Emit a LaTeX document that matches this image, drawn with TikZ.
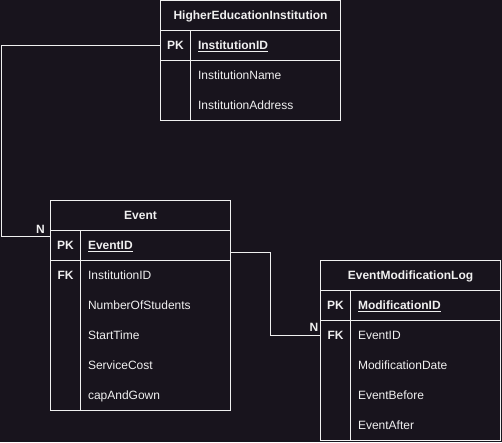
\documentclass[tikz,border=0pt]{standalone}
\usepackage{fontspec}
\setmainfont{Liberation Sans}
\usepackage{xcolor}
\definecolor{erbg}{RGB}{24,20,29}
\definecolor{erfg}{RGB}{240,240,240}
\usetikzlibrary{calc,positioning}
\tikzset{
  every node/.style={text=erfg,font=\fontsize{12}{14}\selectfont,text height=8.6pt,text depth=0pt,outer sep=0pt},
  tblhead/.style={draw=erfg,line width=1pt,minimum width=180pt,minimum height=30pt,inner sep=0pt,font=\fontsize{12}{14}\selectfont\bfseries},
  keybox/.style={draw=erfg,line width=1pt,minimum width=30pt,minimum height=30pt,inner sep=0pt,anchor=north west,font=\fontsize{12}{14}\selectfont\bfseries},
  fieldbox/.style={draw=erfg,line width=1pt,minimum width=150pt,minimum height=30pt,inner sep=0pt,anchor=north west},
  attrtext/.style={anchor=west,inner sep=0pt},
  keytext/.style={inner sep=0pt,font=\fontsize{12}{14}\selectfont\bfseries},
  rel/.style={draw=erfg,line width=1pt},
  card/.style={inner sep=0pt,font=\fontsize{12}{14}\selectfont\bfseries}
}
\newcommand{\erattr}[3]{\node[attrtext] (#1) at (#2){#3};}
\newcommand{\erpk}[3]{\node[attrtext,font=\fontsize{12}{14}\selectfont\bfseries] (#1) at (#2){\underline{#3}};}

\begin{document}
\begin{tikzpicture}[x=1pt,y=-1pt]
  \fill[erbg] (0,0) rectangle (502,442);
  \useasboundingbox (0,0) rectangle (502,442);

  % HigherEducationInstitution
  \node[tblhead] (hei) at (250.5,15.5) {HigherEducationInstitution};
  \node[keybox] (hei-pk) at (hei.south west) {PK};
  \node[fieldbox] (hei-pkf) at (hei-pk.north east) {};
  \node[keybox,minimum height=60pt] (hei-kc) at (hei-pk.south west) {};
  \node[fieldbox,minimum height=60pt] (hei-fc) at (hei-pkf.south west) {};
  \erpk{hei-id}{$(hei-pkf.west)+(7.5,-0.5)$}{InstitutionID}
  \erattr{hei-name}{$(hei-fc.north west)+(7.5,14.5)$}{InstitutionName}
  \erattr{hei-addr}{$(hei-fc.north west)+(7.5,44.5)$}{InstitutionAddress}

  % Event
  \node[tblhead] (ev) at (140.5,215.5) {Event};
  \node[keybox] (ev-pk) at (ev.south west) {PK};
  \node[fieldbox] (ev-pkf) at (ev-pk.north east) {};
  \node[keybox,minimum height=150pt] (ev-kc) at (ev-pk.south west) {};
  \node[fieldbox,minimum height=150pt] (ev-fc) at (ev-pkf.south west) {};
  \node[keytext] (ev-fk) at ($(ev-kc.north)+(0,14.5)$) {FK};
  \erpk{ev-id}{$(ev-pkf.west)+(7.5,-0.5)$}{EventID}
  \erattr{ev-inst}{$(ev-fc.north west)+(7.5,14.5)$}{InstitutionID}
  \erattr{ev-num}{$(ev-fc.north west)+(7.5,44.5)$}{NumberOfStudents}
  \erattr{ev-start}{$(ev-fc.north west)+(7.5,74.5)$}{StartTime}
  \erattr{ev-cost}{$(ev-fc.north west)+(7.5,104.5)$}{ServiceCost}
  \erattr{ev-gown}{$(ev-fc.north west)+(7.5,134.5)$}{capAndGown}

  % EventModificationLog
  \node[tblhead] (eml) at (410.5,275.5) {EventModificationLog};
  \node[keybox] (eml-pk) at (eml.south west) {PK};
  \node[fieldbox] (eml-pkf) at (eml-pk.north east) {};
  \node[keybox,minimum height=120pt] (eml-kc) at (eml-pk.south west) {};
  \node[fieldbox,minimum height=120pt] (eml-fc) at (eml-pkf.south west) {};
  \node[keytext] (eml-fk) at ($(eml-kc.north)+(0,14.5)$) {FK};
  \erpk{eml-id}{$(eml-pkf.west)+(7.5,-0.5)$}{ModificationID}
  \erattr{eml-ev}{$(eml-fc.north west)+(7.5,14.5)$}{EventID}
  \erattr{eml-date}{$(eml-fc.north west)+(7.5,44.5)$}{ModificationDate}
  \erattr{eml-before}{$(eml-fc.north west)+(7.5,74.5)$}{EventBefore}
  \erattr{eml-after}{$(eml-fc.north west)+(7.5,104.5)$}{EventAfter}

  % relations
  \coordinate (bend1) at (1,236);
  \coordinate (ev-in) at (bend1 -| ev.west);
  \draw[rel] (hei-pk.west) -| (bend1) -- (ev-in);
  \node[card] (n1) at (40.5,228.7) {N};

  \coordinate (ev-out) at ($(ev-pkf.east)+(0,6.5)$);
  \coordinate (eml-in) at ($(eml-kc.north west)+(0,15)$);
  \coordinate (bend2) at (270.5,335.5);
  \draw[rel] (ev-out) -| (bend2) -- (eml-in);
  \node[card] (n2) at (314,326.7) {N};
\end{tikzpicture}
\end{document}
